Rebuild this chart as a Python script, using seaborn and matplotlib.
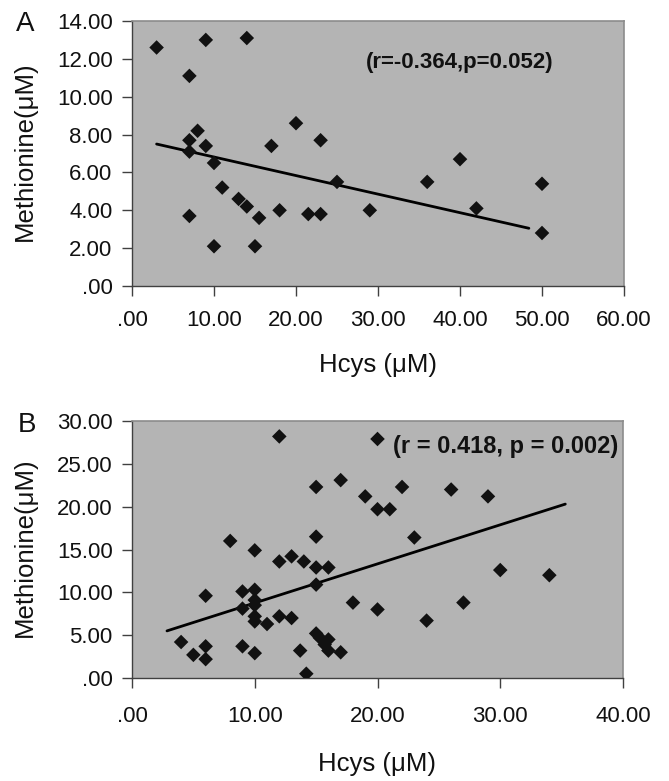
import numpy as np
import pandas as pd
import matplotlib
matplotlib.use("Agg")
import matplotlib.pyplot as plt
from matplotlib.ticker import FuncFormatter, MultipleLocator
import seaborn as sns

sns.set_style("ticks")
plt.rcParams["font.family"] = ["Liberation Sans", "DejaVu Sans"]

# --- panel A data (Hcys vs methionine) ---
hcys_a = [3, 9, 14, 7, 8, 7, 9, 7, 10, 20, 17, 23, 11, 13, 14, 15.5, 18, 21.5, 23,
          7, 10, 15, 25, 29, 36, 40, 42, 50, 50]
met_a = [12.6, 13.0, 13.1, 11.1, 8.2, 7.7, 7.4, 7.1, 6.5, 8.6, 7.4, 7.7, 5.2, 4.6, 4.2, 3.6, 4.0, 3.8, 3.8,
         3.7, 2.1, 2.1, 5.5, 4.0, 5.5, 6.7, 4.1, 5.4, 2.8]
# trend line ends
trend_x_a = [3, 48.4]
trend_y_a = [7.5, 3.05]
label_a = "(r=-0.364,p=0.052)"

# --- panel B data ---
hcys_b = [12, 15, 17, 19, 20, 20, 8, 10, 15, 12, 13, 14, 15, 16, 15, 6, 9, 10, 9, 10, 10, 10, 10, 11,
          12, 13, 18, 20, 4, 5, 6, 6, 9, 10, 13.7, 14.2, 15, 15.3, 16, 15.7, 16, 17,
          22, 26, 29, 21, 23, 30, 34, 24, 27]
met_b = [28.2, 22.3, 23.1, 21.2, 19.7, 27.9, 16.0, 14.9, 16.5, 13.6, 14.2, 13.6, 12.9, 12.9, 10.9, 9.6,
         10.1, 10.3, 8.1, 9.1, 8.5, 7.2, 6.6, 6.3, 7.2, 7.0, 8.8, 8.0, 4.2, 2.7, 3.7, 2.2, 3.7, 2.9,
         3.2, 0.5, 5.2, 4.7, 4.5, 3.9, 3.2, 3.0, 22.3, 22.0, 21.2, 19.7, 16.4, 12.6, 12.0, 6.7, 8.8]
trend_x_b = [2.85, 35.3]
trend_y_b = [5.5, 20.3]
label_b = "(r = 0.418, p = 0.002)"

W, H = 669, 781
fig = plt.figure(figsize=(W / 100, H / 100), dpi=100)


def px_axes(left, top, right, bottom):
    return fig.add_axes([left / W, 1 - bottom / H, (right - left) / W, (bottom - top) / H])


def excel_fmt(v, pos):
    s = f"{v:.2f}"
    return s[1:] if s.startswith("0.") else s


def draw_panel(ax, x, y, tx, ty, xmax, ymax, xstep, ystep, note, note_xy, note_size,
               xpad, xlabel_y):
    df = pd.DataFrame({"hcys": x, "met": y})
    ax.set_facecolor("#b4b4b4")
    sns.scatterplot(data=df, x="hcys", y="met", marker="D", s=55, color="#111111",
                    edgecolor="none", ax=ax, zorder=3)
    sns.lineplot(x=tx, y=ty, color="black", linewidth=2.0, ax=ax, zorder=2)
    ax.set_xlim(0, xmax)
    ax.set_ylim(0, ymax)
    ax.xaxis.set_major_locator(MultipleLocator(xstep))
    ax.yaxis.set_major_locator(MultipleLocator(ystep))
    ax.xaxis.set_major_formatter(FuncFormatter(excel_fmt))
    ax.yaxis.set_major_formatter(FuncFormatter(excel_fmt))
    ax.tick_params(axis="both", direction="out", length=7, width=1, color="#404040",
                   labelsize=16, labelcolor="#111111")
    ax.tick_params(axis="x", pad=xpad)
    ax.tick_params(axis="y", pad=7)
    for side in ["left", "bottom"]:
        ax.spines[side].set_color("#404040")
        ax.spines[side].set_linewidth(1)
    for side in ["top", "right"]:
        ax.spines[side].set_color("#8c8c8c")
        ax.spines[side].set_linewidth(1.2)
    ax.set_xlabel("Hcys (μM)", fontsize=18.5, color="#111111")
    ax.set_ylabel("Methionine(μM)", fontsize=18.5, color="#111111")
    ax.xaxis.set_label_coords(0.5, xlabel_y)
    ax.xaxis.label.set_va("center")
    ax.yaxis.set_label_coords(-0.218, 0.51)
    ax.yaxis.label.set_va("center")
    ax.text(note_xy[0], note_xy[1], note, transform=ax.transAxes, ha="right", va="center",
            fontsize=note_size, fontweight="bold", color="#111111", zorder=4)


ax_a = px_axes(132, 21, 624, 286)
draw_panel(ax_a, hcys_a, met_a, trend_x_a, trend_y_a, 60, 14, 10, 2,
           label_a, (0.857, 0.842), 16, 10, -0.30)

ax_b = px_axes(132, 421, 623, 678)
draw_panel(ax_b, hcys_b, met_b, trend_x_b, trend_y_b, 40, 30, 10, 5,
           label_b, (0.99, 0.899), 17, 13, -0.335)

fig.text(25 / W, 1 - 24 / H, "A", fontsize=20, ha="center", va="center", color="#111111")
fig.text(27 / W, 1 - 425 / H, "B", fontsize=20, ha="center", va="center", color="#111111")

fig.savefig("out.png", dpi=100)
